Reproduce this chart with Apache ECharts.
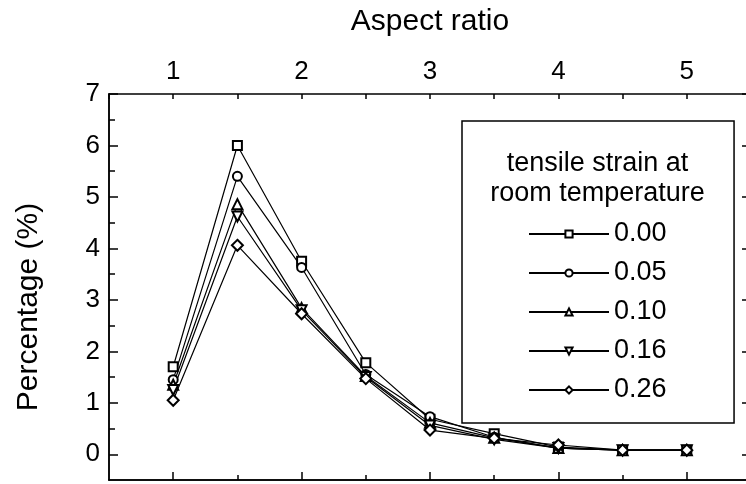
<!DOCTYPE html>
<html>
<head>
<meta charset="utf-8">
<script src="https://cdn.jsdelivr.net/npm/echarts@6/dist/echarts.min.js"></script>
<style>
  html, body { margin: 0; padding: 0; background: #fff; }
  #chart { width: 746px; height: 484px; }
</style>
</head>
<body>
<div id="chart"></div>
<script>
// Aspect-ratio distribution for several levels of room-temperature tensile strain
const aspectRatio = [1, 1.5, 2, 2.5, 3, 3.5, 4, 4.5, 5];
const strainNames = ['0.00', '0.05', '0.10', '0.16', '0.26'];
const strain000 = [1.70, 6.00, 3.75, 1.78, 0.68, 0.40, 0.14, 0.08, 0.08];
const strain005 = [1.45, 5.40, 3.63, 1.55, 0.73, 0.33, 0.12, 0.08, 0.08];
const strain010 = [1.35, 4.86, 2.84, 1.52, 0.61, 0.32, 0.12, 0.08, 0.08];
const strain016 = [1.25, 4.62, 2.80, 1.50, 0.56, 0.29, 0.12, 0.08, 0.08];
const strain026 = [1.05, 4.06, 2.73, 1.47, 0.47, 0.31, 0.18, 0.08, 0.08];
const xTickLabels = [1, 2, 3, 4, 5];
const yTickLabels = [0, 1, 2, 3, 4, 5, 6, 7];
const yHalfTicks = [0.5, 1.5, 2.5, 3.5, 4.5, 5.5, 6.5];
const xHalfTicks = [1.5, 2.5, 3.5, 4.5];

const seriesValues = [strain000, strain005, strain010, strain016, strain026];
const symbols = ['emptyRect', 'emptyCircle', 'emptyTriangle', 'emptyTriangle', 'emptyDiamond'];
const rotations = [0, 0, 0, 180, 0];
const sizes = [9, 9, 10, 10, 11];

const FONT = '"Liberation Sans", Arial, Helvetica, sans-serif';
const INK = '#000';

const chart = echarts.init(document.getElementById('chart'), null, { renderer: 'canvas' });

// every axis draws one side of the closed frame, so none may snap to zero
const frameLine = { show: true, onZero: false, lineStyle: { color: INK, width: 1.5 } };
const tickLine = { color: INK, width: 1.5 };

const option = {
  animation: false,
  backgroundColor: '#fff',
  textStyle: { fontFamily: FONT, color: INK },
  grid: { left: 109, top: 94, width: 642, height: 386, containLabel: false, outerBoundsMode: 'none' },
  xAxis: [
    {
      type: 'value', position: 'top', min: 0.5, max: 5.5, interval: 0.5,
      axisLine: frameLine,
      axisTick: { inside: true, length: 5, lineStyle: tickLine },
      axisLabel: {
        margin: 9, fontSize: 26, color: INK, fontFamily: FONT,
        formatter: v => (Number.isInteger(v) ? String(v) : '')
      },
      splitLine: { show: false },
      name: 'Aspect ratio', nameLocation: 'middle', nameGap: 57, nameMoveOverlap: false,
      nameTextStyle: { fontSize: 30, color: INK, fontFamily: FONT }
    },
    {
      type: 'value', position: 'bottom', min: 0.5, max: 5.5,
      axisLine: frameLine,
      axisTick: { inside: true, length: 8, customValues: xTickLabels, lineStyle: tickLine },
      axisLabel: { show: false },
      splitLine: { show: false }
    },
    {
      type: 'value', position: 'bottom', min: 0.5, max: 5.5,
      axisLine: frameLine,
      axisTick: { inside: true, length: 5, customValues: xHalfTicks, lineStyle: tickLine },
      axisLabel: { show: false },
      splitLine: { show: false }
    }
  ],
  yAxis: [
    {
      type: 'value', position: 'left', min: -0.5, max: 7,
      axisLine: frameLine,
      axisTick: { inside: true, length: 9, customValues: yTickLabels, lineStyle: tickLine },
      axisLabel: { margin: 9, fontSize: 26, color: INK, fontFamily: FONT, customValues: yTickLabels },
      splitLine: { show: false },
      name: 'Percentage (%)', nameLocation: 'middle', nameGap: 65, nameRotate: 90, nameMoveOverlap: false,
      nameTextStyle: { fontSize: 30, color: INK, fontFamily: FONT, padding: [0, 40, 0, 0] }
    },
    {
      type: 'value', position: 'left', min: -0.5, max: 7,
      axisLine: frameLine,
      axisTick: { inside: true, length: 6, customValues: yHalfTicks, lineStyle: tickLine },
      axisLabel: { show: false },
      splitLine: { show: false }
    },
    {
      type: 'value', position: 'right', min: -0.5, max: 7,
      axisLine: frameLine,
      axisTick: { inside: true, length: 9, customValues: yTickLabels, lineStyle: tickLine },
      axisLabel: { show: false },
      splitLine: { show: false }
    }
  ],
  legend: {
    orient: 'vertical', left: 462, top: 121,
    padding: [99.5, 67.5, 19.5, 66],
    itemWidth: 80, itemHeight: 9, itemGap: 12,
    borderColor: INK, borderWidth: 1.5, borderRadius: 0,
    textStyle: { fontSize: 27, color: INK, fontFamily: FONT },
    data: strainNames
  },
  graphic: [
    { type: 'text', x: 597.5, y: 164, silent: true,
      style: { text: 'tensile strain at', fontSize: 27, fontFamily: FONT, fill: INK, align: 'center', verticalAlign: 'middle' } },
    { type: 'text', x: 597.5, y: 194, silent: true,
      style: { text: 'room temperature', fontSize: 27, fontFamily: FONT, fill: INK, align: 'center', verticalAlign: 'middle' } }
  ],
  series: strainNames.map((name, i) => ({
    name: name,
    type: 'line',
    xAxisIndex: 0,
    yAxisIndex: 0,
    data: aspectRatio.map((x, j) => [x, seriesValues[i][j]]),
    symbol: symbols[i],
    symbolRotate: rotations[i],
    symbolSize: sizes[i],
    showAllSymbol: true,
    lineStyle: { color: INK, width: 1.2 },
    itemStyle: { color: INK, borderColor: INK, borderWidth: 1.4 },
    emphasis: { disabled: true }
  }))
};

chart.setOption(option);
</script>
</body>
</html>
